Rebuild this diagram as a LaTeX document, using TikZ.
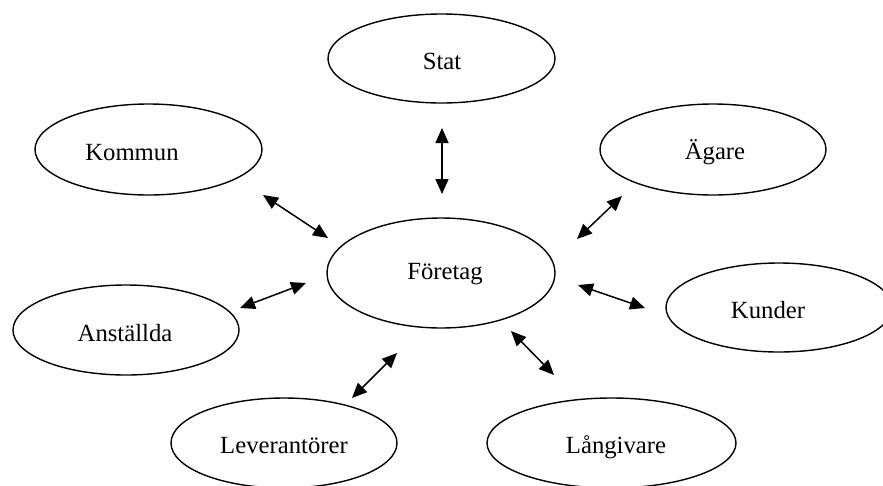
\documentclass[tikz,border=0pt]{standalone}
\usepackage{fontspec}
\setmainfont{Liberation Serif}
\usetikzlibrary{shapes.geometric,arrows.meta}
\begin{document}
\begin{tikzpicture}[x=1pt,y=-1pt,
  party/.style={draw, ellipse, line width=1.4pt, inner sep=0pt},
  lbl/.style={anchor=base, inner sep=0pt, font=\fontsize{24.7}{30}\selectfont},
  link/.style={line width=1.5pt, {Triangle[length=15pt,width=13pt]}-{Triangle[length=15pt,width=13pt]}}]
  \useasboundingbox (0,0) rectangle (883,485);

  % ellipses
  \node[party, minimum width=227pt, minimum height=89pt] (stat) at (441.5,58.5) {};
  \node[party, minimum width=227pt, minimum height=91pt] (kommun) at (148.5,149.5) {};
  \node[party, minimum width=226pt, minimum height=91pt] (agare) at (713,149.5) {};
  \node[party, minimum width=228pt, minimum height=110pt] (foretag) at (441,273) {};
  \node[party, minimum width=226pt, minimum height=90pt] (anstallda) at (126,330) {};
  \node[party, minimum width=226pt, minimum height=89pt] (kunder) at (779,307.5) {};
  \node[party, minimum width=226pt, minimum height=90pt] (lev) at (284,443) {};
  \node[party, minimum width=249pt, minimum height=90pt] (lang) at (611.5,443) {};

  % labels
  \node[lbl] (stat-t) at (442,69) {Stat};
  \node[lbl] (kommun-t) at (132,160) {Kommun};
  \node[lbl] (agare-t) at (715,159) {Ägare};
  \node[lbl] (foretag-t) at (445,279) {Företag};
  \node[lbl] (anstallda-t) at (125,341) {Anställda};
  \node[lbl] (kunder-t) at (768,318) {Kunder};
  \node[lbl] (lev-t) at (284,453) {Leverantörer};
  \node[lbl] (lang-t) at (616,453) {Långivare};

  % arrow ends
  \coordinate (s1) at (442,128);  \coordinate (s2) at (442,194);
  \coordinate (k1) at (263,195);  \coordinate (k2) at (328,238);
  \coordinate (a1) at (622,196);  \coordinate (a2) at (577,239);
  \coordinate (n1) at (240,308);  \coordinate (n2) at (306,283);
  \coordinate (u1) at (578,285);  \coordinate (u2) at (645,308);
  \coordinate (l1) at (352,398);  \coordinate (l2) at (397,353);
  \coordinate (g1) at (511,331);  \coordinate (g2) at (554,375);

  % double-headed links
  \draw[link] (s1) -- (s2);
  \draw[link] (k1) -- (k2);
  \draw[link] (a1) -- (a2);
  \draw[link] (n1) -- (n2);
  \draw[link] (u1) -- (u2);
  \draw[link] (l1) -- (l2);
  \draw[link] (g1) -- (g2);
\end{tikzpicture}
\end{document}
